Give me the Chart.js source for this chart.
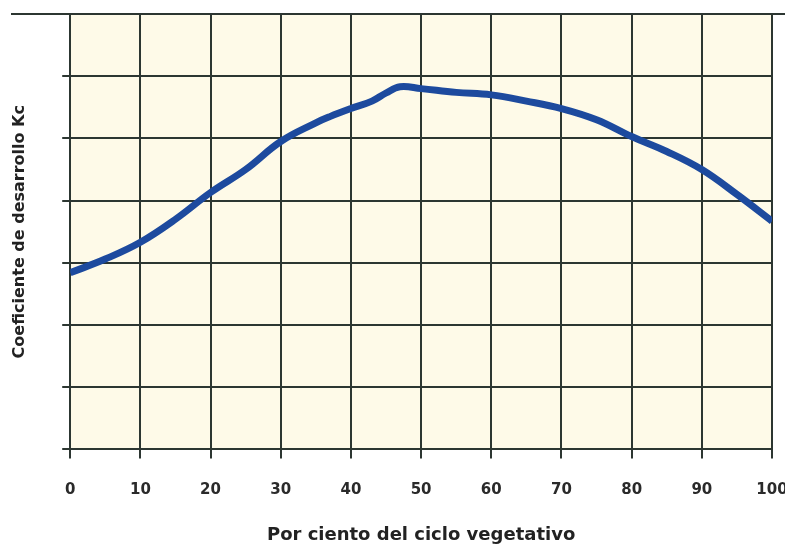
<!DOCTYPE html>
<html>
<head>
<meta charset="utf-8">
<script src="https://cdn.jsdelivr.net/npm/chart.js@4/dist/chart.umd.min.js"></script>
<style>
  html, body { margin: 0; padding: 0; background: #ffffff; }
  #wrap { width: 785px; height: 546px; }
</style>
</head>
<body>
<div id="wrap"><canvas id="grafico"></canvas></div>
<script>
// porcentaje del ciclo y coeficiente Kc
var ciclo = [0, 5, 10, 15, 20, 25, 30, 35, 37, 40, 43, 45, 47, 50, 55, 60, 65, 70, 75, 80, 85, 90, 95, 100];
var kc = [2.84, 3.06, 3.33, 3.70, 4.13, 4.50, 4.95, 5.25, 5.35, 5.48, 5.60, 5.73, 5.83, 5.80, 5.74, 5.70, 5.60, 5.48, 5.30, 5.03, 4.79, 4.50, 4.10, 3.67];
var tick_x = [0, 10, 20, 30, 40, 50, 60, 70, 80, 90, 100];

var color_grid = '#2c3631';
var color_linea = '#1d4a9e';
var fuente = 'DejaVu Sans';

var puntos = [];
for (i = 0; i < ciclo.length; i++) {
    puntos.push({ x: ciclo[i], y: kc[i] });
}

// fondo crema y linea superior
var fondo = {
    id: 'fondo',
    beforeDraw: function (chart) {
        var c = chart.ctx, a = chart.chartArea;
        c.save();
        c.fillStyle = '#fefae8';
        c.fillRect(a.left, a.top, a.right - a.left, a.bottom - a.top);
        c.restore();
    },
    afterDraw: function (chart) {
        var c = chart.ctx, a = chart.chartArea;
        c.save();
        c.strokeStyle = color_grid;
        c.lineWidth = 2;
        c.beginPath();
        c.moveTo(11, a.top);
        c.lineTo(785, a.top);
        c.stroke();
        c.restore();
    }
};

var ctx = document.getElementById('grafico').getContext('2d');
var chart_kc = new Chart(ctx, {
    type: 'line',
    data: {
        datasets: [{
            data: puntos,
            borderColor: color_linea,
            borderWidth: 7,
            pointRadius: 0,
            tension: 0.4,
            fill: false
        }]
    },
    options: {
        responsive: true,
        maintainAspectRatio: false,
        animation: false,
        layout: { padding: { top: 14, left: 10, right: 13, bottom: 0 } },
        plugins: {
            legend: { display: false },
            tooltip: { enabled: false }
        },
        scales: {
            x: {
                type: 'linear',
                min: 0,
                max: 100,
                afterBuildTicks: function (scale) {
                    scale.ticks = tick_x.map(function (v) { return { value: v }; });
                },
                afterFit: function (scale) {
                    scale.paddingRight = 0;
                    scale.paddingLeft = 0;
                },
                grid: { color: color_grid, lineWidth: 2, tickLength: 9 },
                border: { color: color_grid, width: 2 },
                ticks: {
                    padding: 23,
                    maxRotation: 0,
                    color: '#2a2a2a',
                    font: { family: fuente, size: 15, weight: 'bold' }
                },
                title: {
                    display: true,
                    text: 'Por ciento del ciclo vegetativo',
                    color: '#222222',
                    padding: { top: 2, bottom: 0 },
                    font: { family: fuente, size: 18, weight: 'bold' }
                }
            },
            y: {
                min: 0,
                max: 7,
                ticks: { stepSize: 1, display: false },
                grid: { color: color_grid, lineWidth: 2, tickLength: 8 },
                border: { color: color_grid, width: 2 },
                title: {
                    display: true,
                    text: 'Coeficiente de desarrollo Kc',
                    color: '#222222',
                    padding: { top: 0, bottom: 33 },
                    font: { family: fuente, size: 16, weight: 'bold' }
                }
            }
        }
    },
    plugins: [fondo]
});
</script>
</body>
</html>
